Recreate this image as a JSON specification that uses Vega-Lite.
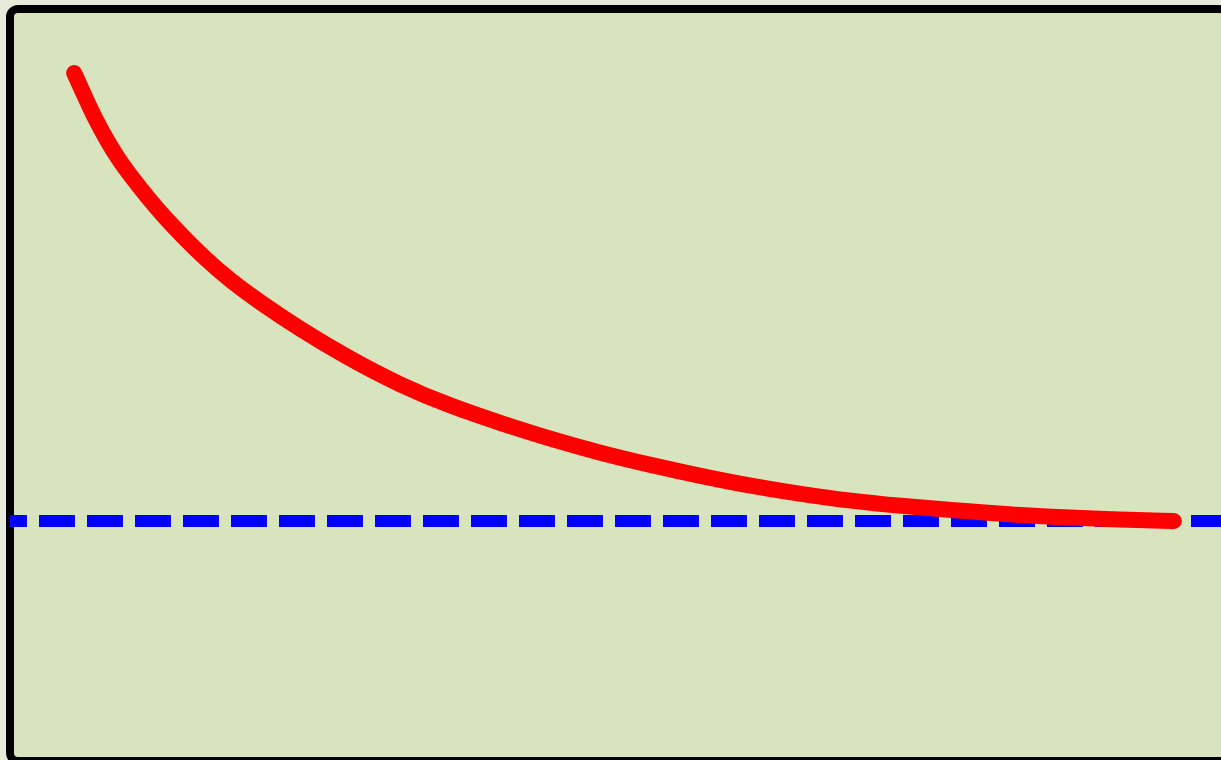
{
  "$schema": "https://vega.github.io/schema/vega-lite/v6.json",
  "width": 1221,
  "height": 760,
  "autosize": {"type": "fit", "contains": "padding"},
  "padding": {"left": 4, "top": 9, "right": -12, "bottom": -1},
  "background": "#E8EBDA",
  "config": {
    "view": {"fill": "#D8E4BE", "stroke": "black", "strokeWidth": 8, "cornerRadius": 8}
  },
  "datasets": {
    "curve": [
      {"t": 64, "v": 688},
      {"t": 74, "v": 666},
      {"t": 84, "v": 644},
      {"t": 96, "v": 622},
      {"t": 108, "v": 602},
      {"t": 122, "v": 583},
      {"t": 137, "v": 564},
      {"t": 153, "v": 545},
      {"t": 172, "v": 525},
      {"t": 194, "v": 503},
      {"t": 219, "v": 481},
      {"t": 249, "v": 459},
      {"t": 289, "v": 432},
      {"t": 339, "v": 402},
      {"t": 389, "v": 376},
      {"t": 439, "v": 355},
      {"t": 489, "v": 338},
      {"t": 539, "v": 322},
      {"t": 589, "v": 308},
      {"t": 639, "v": 296},
      {"t": 689, "v": 285},
      {"t": 739, "v": 275},
      {"t": 789, "v": 267},
      {"t": 839, "v": 260},
      {"t": 889, "v": 255},
      {"t": 939, "v": 251},
      {"t": 989, "v": 247},
      {"t": 1039, "v": 244},
      {"t": 1089, "v": 242},
      {"t": 1161, "v": 240}
    ],
    "baseline": [{"v": 240}]
  },
  "layer": [
    {
      "data": {"name": "baseline"},
      "mark": {"type": "rule", "color": "#0000FF", "strokeWidth": 12, "strokeDash": [36, 12], "strokeCap": "butt"},
      "encoding": {
        "y": {"field": "v", "type": "quantitative", "scale": {"domain": [0, 752], "nice": false, "zero": false}, "axis": null}
      }
    },
    {
      "data": {"name": "curve"},
      "mark": {"type": "line", "color": "#FF0000", "strokeWidth": 16, "strokeCap": "round", "strokeJoin": "round", "interpolate": "basis"},
      "encoding": {
        "x": {"field": "t", "type": "quantitative", "scale": {"domain": [0, 1214], "nice": false, "zero": false}, "axis": null},
        "y": {"field": "v", "type": "quantitative", "scale": {"domain": [0, 752], "nice": false, "zero": false}, "axis": null}
      }
    }
  ]
}
